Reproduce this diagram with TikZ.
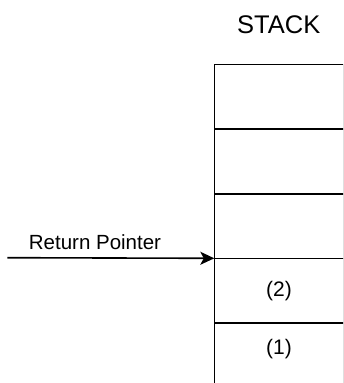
\documentclass[tikz,border=0pt]{standalone}
\usepackage{fontspec}
\setmainfont{Liberation Sans}
\usetikzlibrary{arrows.meta,positioning}

\tikzset{
  cell/.style={draw, line width=1.6pt, outer sep=0pt, inner sep=0pt,
    minimum width=129.4pt, minimum height=64.6pt,
    font=\fontsize{21}{21}\selectfont},
  ptr/.style={line width=1.6pt, -{Stealth[length=14pt,width=13pt,inset=3.5pt]}},
}

\begin{document}
\begin{tikzpicture}[x=1pt,y=-1pt]
  \useasboundingbox (0,0) rectangle (343,383);
  \clip (0,0) rectangle (343,383);
  % stack of cells, open at the bottom and the right
  \node[font=\fontsize{25.5}{25.5}\selectfont] (title) at (278.7,25) {STACK};
  \node[cell, anchor=north west] (c5) at (214.3,64.5) {};
  \node[cell, below=0pt of c5] (c4) {};
  \node[cell, below=0pt of c4] (c3) {};
  \node[cell, below=0pt of c3] (c2) {(2)};
  \node[cell, minimum height=90pt, below=0pt of c2] (c1) {};
  \node[font=\fontsize{21}{21}\selectfont] (n1) at ([yshift=-26pt]c1.north) {(1)};
  % pointer into the stack
  \coordinate (from) at (7.3,257.7);
  \draw[ptr] (from) -- (c2.north west);
  \node[font=\fontsize{20.5}{20.5}\selectfont] (rp) at (95,242.2) {Return Pointer};
\end{tikzpicture}
\end{document}
